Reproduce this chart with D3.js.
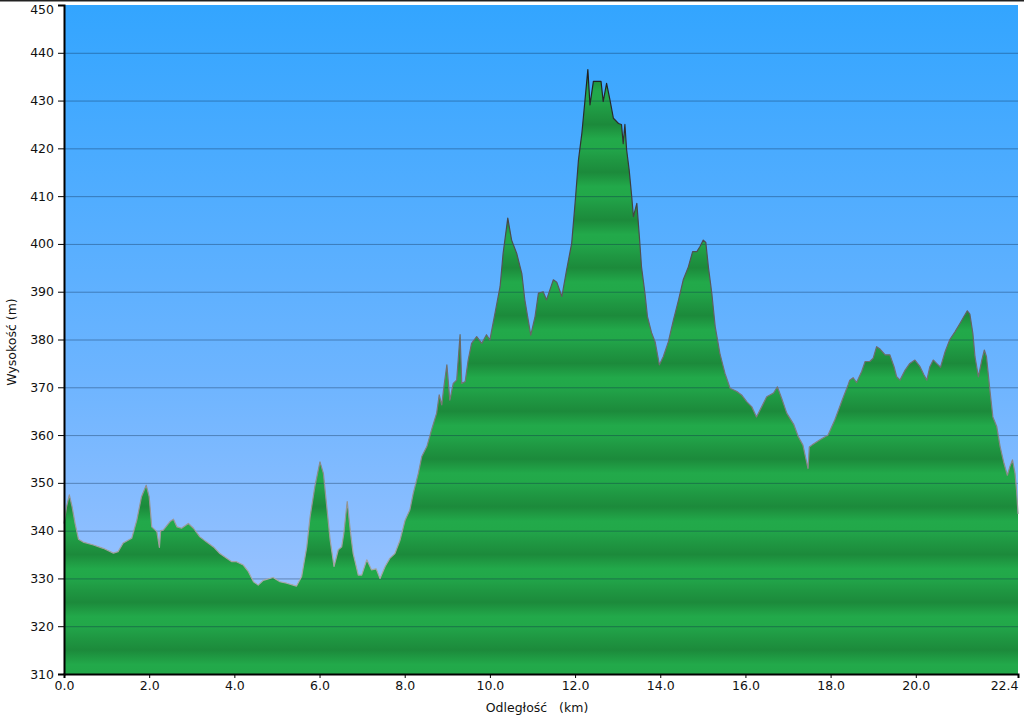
<!DOCTYPE html>
<html><head><meta charset="utf-8">
<script src="https://cdn.jsdelivr.net/npm/d3@7"></script>
<style>html,body{margin:0;padding:0;background:#fff}svg{display:block}</style>
</head><body>
<svg id="chart" width="1024" height="720"></svg>
<script>
const distKm = [0.00,0.06,0.125,0.19,0.26,0.34,0.45,0.69,0.92,1.16,1.27,1.39,1.59,1.71,1.82,1.93,2.00,2.06,2.18,2.24,2.27,2.33,2.49,2.57,2.65,2.76,2.92,3.04,3.19,3.35,3.51,3.66,3.82,3.94,4.05,4.21,4.33,4.45,4.56,4.68,4.91,5.07,5.23,5.38,5.46,5.58,5.70,5.78,5.89,6.01,6.09,6.17,6.25,6.34,6.44,6.52,6.57,6.65,6.73,6.79,6.91,6.99,7.11,7.22,7.33,7.42,7.54,7.65,7.77,7.89,8.01,8.12,8.20,8.32,8.40,8.52,8.63,8.75,8.81,8.87,8.92,8.99,9.06,9.14,9.22,9.30,9.34,9.42,9.49,9.57,9.69,9.81,9.92,10.00,10.12,10.24,10.31,10.42,10.51,10.63,10.75,10.82,10.96,11.06,11.14,11.25,11.33,11.49,11.57,11.69,11.80,11.92,12.00,12.08,12.16,12.23,12.30,12.35,12.43,12.55,12.61,12.66,12.74,12.82,12.90,13.02,13.09,13.13,13.17,13.21,13.27,13.33,13.37,13.45,13.51,13.56,13.64,13.70,13.80,13.88,13.98,14.07,14.19,14.31,14.43,14.54,14.66,14.76,14.86,14.93,15.01,15.07,15.13,15.21,15.29,15.40,15.52,15.64,15.80,15.91,16.03,16.15,16.26,16.38,16.50,16.66,16.75,16.85,16.97,17.13,17.24,17.35,17.47,17.50,17.56,17.75,17.94,18.10,18.27,18.41,18.45,18.53,18.61,18.73,18.81,18.92,19.00,19.08,19.16,19.28,19.39,19.49,19.55,19.63,19.75,19.86,19.98,20.10,20.19,20.26,20.33,20.41,20.50,20.58,20.69,20.80,20.92,21.04,21.13,21.21,21.27,21.34,21.39,21.47,21.55,21.61,21.66,21.74,21.81,21.90,21.98,22.07,22.15,22.21,22.27,22.33,22.37,22.40];
const elevM = [341.5,345.0,347.5,345.0,341.5,338.2,337.6,337.0,336.3,335.3,335.6,337.4,338.4,342.2,347.1,349.5,347.1,340.8,339.8,336.5,340.0,340.1,341.9,342.4,340.8,340.5,341.5,340.5,338.7,337.6,336.6,335.2,334.2,333.5,333.5,332.8,331.4,329.3,328.6,329.6,330.2,329.3,329.0,328.6,328.4,330.4,336.6,343.0,349.2,354.4,352.0,345.0,338.0,332.5,336.0,336.6,339.4,346.1,339.4,335.2,330.7,330.7,333.9,331.8,332.0,330.0,332.5,334.2,335.2,338.0,342.2,344.3,347.8,352.0,355.5,357.6,361.1,364.6,368.4,366.3,370.1,374.7,367.3,370.8,371.5,381.0,370.8,371.2,375.7,379.2,380.6,379.2,381.0,379.9,385.5,391.1,398.0,405.4,400.8,398.0,393.8,388.3,380.9,384.8,389.7,390.0,388.3,392.5,392.0,389.0,394.5,400.1,408.5,417.6,423.2,429.8,436.5,429.1,434.0,434.0,434.0,429.8,433.6,430.1,426.3,425.2,425.0,421.0,425.0,419.7,415.5,409.9,405.7,408.5,401.5,395.2,389.7,384.8,381.3,379.5,374.7,376.4,379.5,384.1,388.3,392.5,395.2,398.4,398.4,399.4,400.8,400.3,395.2,389.7,382.7,377.1,372.9,369.8,369.1,368.4,367.0,365.9,363.8,365.9,368.0,368.8,370.1,367.7,364.6,362.3,359.7,357.9,353.0,357.5,357.9,359.0,360.0,363.2,367.3,370.5,371.5,372.0,371.0,373.3,375.4,375.4,376.1,378.5,378.0,376.8,376.8,374.3,372.2,371.5,373.6,375.0,375.7,374.3,372.6,371.5,374.3,375.7,374.9,374.2,377.5,380.0,381.6,383.4,384.8,386.0,385.3,381.3,376.4,372.2,375.7,377.8,376.4,369.4,363.8,361.8,357.6,354.1,351.6,353.4,354.8,352.0,348.0,343.5];
const xTickValues = [0,2,4,6,8,10,12,14,16,18,20,22.4];
const xTickLabels = ["0.0","2.0","4.0","6.0","8.0","10.0","12.0","14.0","16.0","18.0","20.0","22.4"];
const yTickValues = [310,320,330,340,350,360,370,380,390,400,410,420,430,440,450];
const xTitle = "Odległość   (km)";
const yTitle = "Wysokość (m)";

const svg = d3.select("#chart");
const L = 64, R = 1018, T = 5, B = 674;
const x = d3.scaleLinear().domain([0, 22.4]).range([L, R]);
const y = d3.scaleLinear().domain([310, 450]).range([B, T]);
const data = distKm.map((d, i) => ({d, e: elevM[i]}));
const font = "'DejaVu Sans', Verdana, sans-serif";

const defs = svg.append("defs");
const sky = defs.append("linearGradient").attr("id","sky")
  .attr("gradientUnits","userSpaceOnUse").attr("x1",0).attr("y1",T).attr("x2",0).attr("y2",B);
sky.append("stop").attr("offset",0).attr("stop-color","#33a5ff");
sky.append("stop").attr("offset",0.55).attr("stop-color","#6cb4ff");
sky.append("stop").attr("offset",1).attr("stop-color","#a9c7ff");

const band = defs.append("linearGradient").attr("id","band")
  .attr("gradientUnits","userSpaceOnUse").attr("spreadMethod","repeat")
  .attr("x1",0).attr("y1",y(320)).attr("x2",0).attr("y2",y(310));
[[0,"#22a64a"],[0.25,"#1f9742"],[0.5,"#1c8a3b"],[0.8,"#22a94a"],[1,"#22a849"]].forEach(s =>
  band.append("stop").attr("offset",s[0]).attr("stop-color",s[1]));

const edge = defs.append("linearGradient").attr("id","edge")
  .attr("gradientUnits","userSpaceOnUse").attr("x1",0).attr("y1",y(440)).attr("x2",0).attr("y2",y(330));
edge.append("stop").attr("offset",0).attr("stop-color","#1a1a1a");
edge.append("stop").attr("offset",0.45).attr("stop-color","#5a5a5a");
edge.append("stop").attr("offset",1).attr("stop-color","#a8a8a8");

svg.append("rect").attr("x",0).attr("y",0).attr("width",1024).attr("height",1.5).attr("fill","#222");
svg.append("rect").attr("x",L).attr("y",T).attr("width",R-L).attr("height",B-T).attr("fill","url(#sky)");

const area = d3.area().x(d => x(d.d)).y0(y(310)).y1(d => y(d.e));
svg.append("path").datum(data).attr("d", area).attr("fill","url(#band)");

svg.append("g").selectAll("line").data(yTickValues.filter(v => v > 310 && v < 450)).join("line")
  .attr("x1",L).attr("x2",R).attr("y1",d => y(d)+0.5).attr("y2",d => y(d)+0.5)
  .attr("stroke","rgba(10,40,70,0.38)").attr("stroke-width",1);

const line = d3.line().x(d => x(d.d)).y(d => y(d.e));
svg.append("path").datum(data).attr("d", line).attr("fill","none")
  .attr("stroke","url(#edge)").attr("stroke-width",1.2).attr("stroke-linejoin","round");

const yAxis = svg.append("g").attr("transform",`translate(${L},0)`)
  .call(d3.axisLeft(y).tickValues(yTickValues).tickSize(6).tickPadding(4).tickFormat(d3.format("d")));
yAxis.select(".domain").attr("stroke","#000").attr("stroke-width",2);
yAxis.selectAll("text").attr("font-family",font).attr("font-size",12.5).attr("fill","#111");
yAxis.selectAll(".tick").filter(d => d === 450).select("text").attr("dy","0.75em").attr("y",-0.5);

const xAxis = svg.append("g").attr("transform",`translate(0,${B})`)
  .call(d3.axisBottom(x).tickValues(xTickValues).tickSize(4).tickPadding(3).tickFormat((d,i) => xTickLabels[i]));
xAxis.select(".domain").attr("stroke","#000").attr("stroke-width",2);
xAxis.selectAll("text").attr("font-family",font).attr("font-size",12.5).attr("fill","#111");
xAxis.selectAll(".tick").filter(d => d === 22.4).select("text").attr("text-anchor","end").attr("x",0);

svg.append("text").attr("x",537).attr("y",712).attr("text-anchor","middle")
  .attr("font-family",font).attr("font-size",12.5).attr("fill","#111")
  .style("white-space","pre").text(xTitle);
svg.append("text").attr("transform","translate(16,342) rotate(-90)").attr("text-anchor","middle")
  .attr("font-family",font).attr("font-size",12.5).attr("fill","#111").text(yTitle);
</script>
</body></html>
